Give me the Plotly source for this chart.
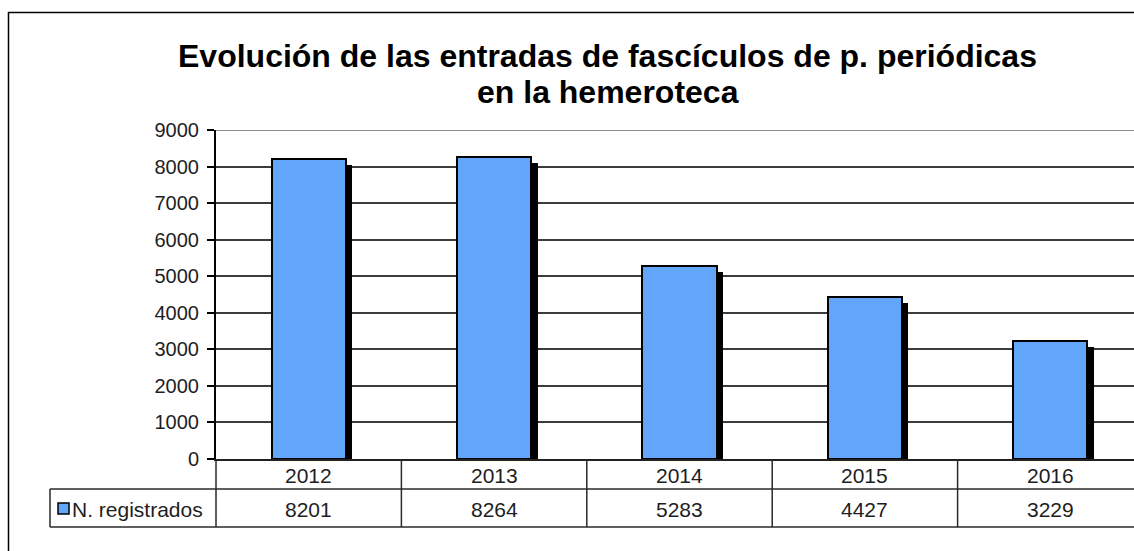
import plotly.graph_objects as go

years = ["2012", "2013", "2014", "2015", "2016"]
registrados = [8201, 8264, 5283, 4427, 3229]
series_name = "N. registrados"
title_line1 = "Evolución de las entradas de fascículos de p. periódicas"
title_line2 = "en la hemeroteca"
y_ticks = list(range(0, 9001, 1000))

W, H = 1134, 551
ML, MR = 216, 0
MT = 130
MB = H - 459
plot_w = W - ML - MR
plot_h = H - MT - MB
cat_w = 185.4
x_range = [-0.5, -0.5 + plot_w / cat_w]

def py(ypx):
    return ((H - MB) - ypx) / plot_h

def px(xpx):
    return (xpx - ML) / plot_w

FONT = "Liberation Sans, Arial, sans-serif"
TXT = "#1e1e1e"
BLUE = "#62a6fc"

idx = list(range(len(years)))
units_per_px = 9000 / plot_h
shadow_dx = 6.5 / cat_w
shadow_dy = 6 * units_per_px

fig = go.Figure()
fig.add_trace(go.Bar(
    x=idx, y=[v - shadow_dy for v in registrados], width=0.4,
    offset=-0.2 + shadow_dx,
    marker=dict(color="black", line=dict(width=0)),
    hoverinfo="skip", showlegend=False,
))
fig.add_trace(go.Bar(
    x=idx, y=registrados, width=0.4, offset=-0.2,
    marker=dict(color=BLUE, line=dict(color="black", width=2)),
    name=series_name, showlegend=False,
))

shapes = []
LC = "#2a2a2a"
shapes.append(dict(type="line", xref="paper", yref="y", x0=0, x1=1.0, y0=9000, y1=9000,
                   line=dict(color="#8a8a8a", width=2)))
for ypx, x0 in [(489, 50), (527, 50)]:
    shapes.append(dict(type="line", xref="paper", yref="paper", x0=px(x0), x1=1.05,
                       y0=py(ypx), y1=py(ypx), line=dict(color=LC, width=1.5)))
shapes.append(dict(type="line", xref="paper", yref="paper", x0=0, x1=0,
                   y0=py(459), y1=py(527), line=dict(color=LC, width=1.5)))
for i in range(len(years) - 1):
    shapes.append(dict(type="line", xref="x", yref="paper", x0=i + 0.5, x1=i + 0.5,
                       y0=py(459), y1=py(527), line=dict(color=LC, width=1.5)))
shapes.append(dict(type="line", xref="paper", yref="paper", x0=px(50), x1=px(50),
                   y0=py(489), y1=py(527), line=dict(color=LC, width=1.5)))
shapes.append(dict(type="rect", xref="paper", yref="paper", x0=px(58), x1=px(69),
                   y0=py(514), y1=py(503), fillcolor=BLUE, line=dict(color="black", width=1.5)))
shapes.append(dict(type="rect", xref="paper", yref="paper", x0=px(8.5), x1=1.2,
                   y0=-1.0, y1=py(12.5), line=dict(color="black", width=1.5)))

annotations = []
annotations.append(dict(text="<b>%s</b>" % title_line1, xref="paper", yref="paper",
                        x=px(607), y=py(56), xanchor="center", yanchor="middle",
                        showarrow=False, font=dict(family=FONT, size=32, color="black")))
annotations.append(dict(text="<b>%s</b>" % title_line2, xref="paper", yref="paper",
                        x=px(608), y=py(92), xanchor="center", yanchor="middle",
                        showarrow=False, font=dict(family=FONT, size=32, color="black")))
for i, (yr, v) in enumerate(zip(years, registrados)):
    annotations.append(dict(text=yr, xref="x", yref="paper", x=i, y=py(475),
                            xanchor="center", yanchor="middle", showarrow=False,
                            font=dict(family=FONT, size=21, color=TXT)))
    annotations.append(dict(text=str(v), xref="x", yref="paper", x=i, y=py(509),
                            xanchor="center", yanchor="middle", showarrow=False,
                            font=dict(family=FONT, size=21, color=TXT)))
annotations.append(dict(text=series_name, xref="paper", yref="paper", x=px(70), y=py(509),
                        xanchor="left", yanchor="middle", showarrow=False,
                        font=dict(family=FONT, size=21, color=TXT)))

fig.update_layout(
    width=W, height=H,
    margin=dict(l=ML, r=MR, t=MT, b=MB, pad=0),
    paper_bgcolor="white", plot_bgcolor="white",
    barmode="overlay", bargap=0,
    showlegend=False,
    shapes=shapes, annotations=annotations,
    xaxis=dict(range=x_range, showticklabels=False, ticks="", showgrid=False,
               zeroline=False, showline=True, linecolor="#222", linewidth=1.5,
               fixedrange=True),
    yaxis=dict(range=[0, 9000], tickvals=y_ticks, showgrid=True, gridcolor="#3c3c3c",
               gridwidth=1.5, zeroline=False, showline=True, linecolor="black", linewidth=2,
               ticks="outside", ticklen=7, tickcolor="black", tickwidth=1.5,
               ticklabelstandoff=4,
               tickfont=dict(family=FONT, size=20, color=TXT), fixedrange=True),
)

fig.write_html(
    "out.html",
    config={"displayModeBar": False},
    post_script="document.body.style.margin='0';document.body.style.overflow='hidden';",
)
